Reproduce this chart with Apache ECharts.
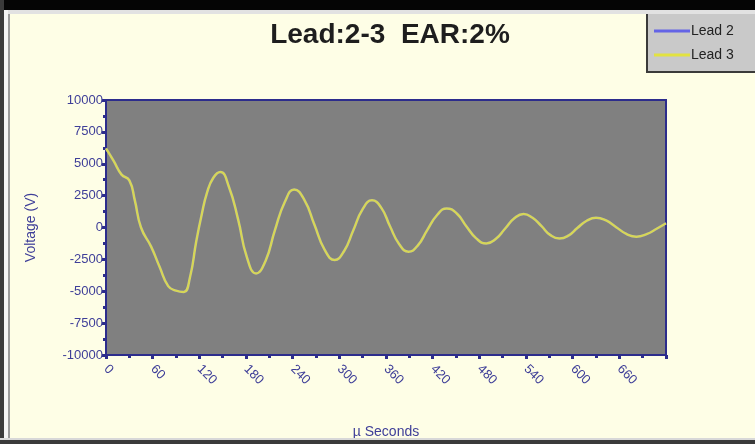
<!DOCTYPE html>
<html>
<head>
<meta charset="utf-8">
<script src="https://cdn.jsdelivr.net/npm/echarts@6/dist/echarts.min.js"></script>
<style>
  html, body { margin: 0; padding: 0; background: #fefee6; }
  #chart { width: 755px; height: 444px; }
</style>
</head>
<body>
<div id="chart"></div>
<script>
// Sample times (µs) and lead voltages (V); samples sit on each swing's peaks and quarter points
const times = [
  0, 10, 20, 30, 37, 45, 58, 69, 80, 90,
  100, 108, 116, 123, 130, 138, 147, 158, 170, 181,
  193, 205, 217, 230, 242, 255, 268, 281, 294, 306,
  318, 330, 342, 354, 365, 377, 389, 401, 413, 426,
  438, 451, 463, 476, 489, 501, 513, 525, 537, 548,
  560, 571, 583, 595, 606, 618, 630, 643, 656, 669,
  682, 695, 708, 720
];
const lead3Volts = [
  6200, 5200, 4150, 3700, 2150, 0, -1500, -3100, -4600, -4950,
  -5050, -3900, -1100, 1000, 2750, 3900, 4350, 3200, 600, -2300,
  -3600, -2640, -250, 2020, 2980, 2170, 215, -1740, -2550, -1860,
  -210, 1440, 2130, 1540, 115, -1310, -1900, -1400, -200, 1000,
  1500, 1100, 125, -850, -1250, -910, -95, 720, 1060, 780,
  100, -580, -860, -620, -45, 530, 770, 550, 25, -500,
  -720, -520, -100, 330
];
// Lead 2 carries the same waveform and sits underneath Lead 3
const lead2Volts = lead3Volts.slice();

const seriesNames = ['Lead 2', 'Lead 3'];
const titleText = 'Lead:2-3  EAR:2%';
const xTitle = 'µ Seconds';
const yTitle = 'Voltage (V)';

const navy = '#2c2c8c';
const labelNavy = '#3e3e98';

const pairs = (ys) => times.map((t, i) => [t, ys[i]]);

const chart = echarts.init(document.getElementById('chart'), null, { renderer: 'canvas' });

chart.setOption({
  backgroundColor: '#fefee6',
  animation: false,
  textStyle: { fontFamily: 'Liberation Sans, Arial, sans-serif' },
  title: {
    text: titleText,
    left: 385,
    top: 16,
    textAlign: 'center',
    textStyle: { fontSize: 28, fontWeight: 'bold', color: '#1e1e1e', fontFamily: 'Liberation Sans, Arial, sans-serif' }
  },
  legend: {
    data: seriesNames,
    orient: 'vertical',
    left: 647,
    top: 13,
    width: 120,
    padding: [11, 40, 10, 7],
    itemGap: 10,
    itemWidth: 36,
    itemHeight: 3,
    icon: 'rect',
    backgroundColor: '#c9c9c9',
    borderColor: '#3a3a3a',
    borderWidth: 2,
    textStyle: { fontSize: 14, color: '#222', padding: [0, 0, 0, -4] }
  },
  graphic: [
    { type: 'rect', left: 0, top: 0, shape: { width: 755, height: 10 }, style: { fill: '#050505' }, z: 100 },
    { type: 'rect', left: 0, top: 10, shape: { width: 755, height: 4 }, style: { fill: '#e2e2e2' }, z: 100 },
    { type: 'rect', left: 0, top: 0, shape: { width: 4, height: 444 }, style: { fill: '#3a3a3a' }, z: 100 },
    { type: 'rect', left: 4, top: 10, shape: { width: 4, height: 430 }, style: { fill: '#f4f4f4' }, z: 100 },
    { type: 'rect', left: 8, top: 14, shape: { width: 2, height: 424 }, style: { fill: '#9a9a9a' }, z: 100 },
    { type: 'rect', left: 0, top: 438, shape: { width: 755, height: 2 }, style: { fill: '#d8d8d8' }, z: 100 },
    { type: 'rect', left: 0, top: 440, shape: { width: 755, height: 4 }, style: { fill: '#3a3a3a' }, z: 100 }
  ],
  grid: {
    left: 106, right: 89, top: 100, bottom: 89,
    show: true,
    backgroundColor: '#808080',
    borderColor: navy,
    borderWidth: 2
  },
  xAxis: {
    type: 'value',
    min: 0, max: 720, interval: 60,
    name: xTitle,
    nameLocation: 'middle',
    nameGap: 70,
    nameTextStyle: { color: labelNavy, fontSize: 14 },
    axisLine: { onZero: false, lineStyle: { color: navy, width: 2 } },
    axisTick: { show: true, length: 4, lineStyle: { color: navy, width: 3 } },
    minorTick: { show: true, splitNumber: 2, length: 3, lineStyle: { color: navy, width: 3 } },
    splitLine: { show: false },
    axisLabel: {
      color: labelNavy, fontSize: 13, rotate: -45, margin: 12,
      showMaxLabel: false
    }
  },
  yAxis: {
    type: 'value',
    min: -10000, max: 10000, interval: 2500,
    name: yTitle,
    nameLocation: 'middle',
    nameGap: 68,
    nameRotate: 90,
    nameTextStyle: { color: labelNavy, fontSize: 14 },
    axisLine: { show: true, onZero: false, lineStyle: { color: navy, width: 2 } },
    axisTick: { show: true, length: 4, lineStyle: { color: navy, width: 3 } },
    minorTick: { show: true, splitNumber: 2, length: 3, lineStyle: { color: navy, width: 3 } },
    splitLine: { show: false },
    axisLabel: { color: labelNavy, fontSize: 13, margin: 3, formatter: (v) => String(v) }
  },
  series: [
    {
      name: seriesNames[0],
      type: 'line',
      data: pairs(lead2Volts),
      smooth: true,
      showSymbol: false,
      lineStyle: { color: '#6464e6', width: 2.5 },
      itemStyle: { color: '#6464e6' },
      z: 2
    },
    {
      name: seriesNames[1],
      type: 'line',
      data: pairs(lead3Volts),
      smooth: true,
      showSymbol: false,
      lineStyle: { color: '#d6d658', width: 2.5 },
      itemStyle: { color: '#e2e240' },
      z: 3
    }
  ]
});
</script>
</body>
</html>
